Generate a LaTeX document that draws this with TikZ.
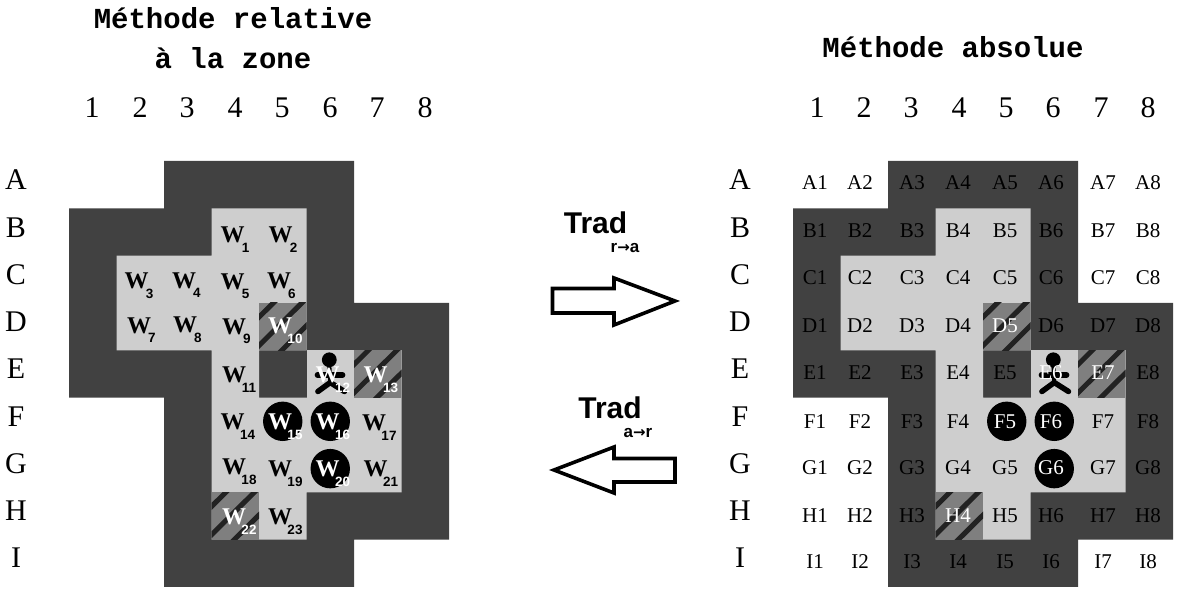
\documentclass[tikz,border=0pt]{standalone}
\usepackage{fontspec}
\setmainfont{Liberation Serif}
\newfontfamily\titlefont{Liberation Mono}
\newfontfamily\tradfont{Liberation Sans}
\newfontfamily\arrowfont{DejaVu Sans}
\definecolor{zonedark}{HTML}{414141}
\definecolor{zonelight}{HTML}{CECECE}
\definecolor{hatchgrey}{HTML}{7F7F7F}
\definecolor{hatchdark}{HTML}{222222}
\newcommand{\tradarrow}{{\arrowfont\bfseries\fontsize{15}{15}\selectfont→}}
\tikzset{
  title/.style={font=\titlefont\bfseries\fontsize{29}{29}\selectfont, inner sep=0pt},
  axis/.style={font=\fontsize{30}{30}\selectfont, inner sep=0pt},
  cellname/.style={font=\fontsize{21}{21}\selectfont, inner sep=0pt, text=black},
  wname/.style={font=\bfseries\fontsize{24}{24}\selectfont, inner sep=0pt},
  wsub/.style={font=\tradfont\bfseries\fontsize{13.5}{13.5}\selectfont, inner sep=0pt},
  trad/.style={font=\tradfont\bfseries\fontsize{30}{30}\selectfont, inner sep=0pt},
  tradsub/.style={font=\tradfont\bfseries\fontsize{17}{17}\selectfont, inner sep=0pt},
  bigarrow/.style={line width=3.6pt, miter limit=10, black, fill=white},
  D5/.style={text=white}, E6/.style={text=white}, E7/.style={text=white},
  F5/.style={text=white}, F6/.style={text=white}, G6/.style={text=white},
  H4/.style={text=white},
}
\begin{document}
\begin{tikzpicture}[x=1pt, y=-1pt]
        \useasboundingbox (0,0) rectangle (1184,596);

        % the two maps
        \foreach \ox in {69,793} {
        \begin{scope}[shift={(\ox,161)}, x=47.5pt, y=-47.33pt]
        \fill[zonedark] (2,0) -- (6,0) -- (6,3) -- (8,3) -- (8,8) -- (6,8) -- (6,9) -- (2,9) -- (2,5) -- (0,5) -- (0,1) -- (2,1) -- cycle;
        \fill[zonelight] (3,1) -- (5,1) -- (5,4) -- (4,4) -- (4,5) -- (7,5) -- (7,7) -- (5,7) -- (5,8) -- (3,8) -- (3,4) -- (1,4) -- (1,2) -- (3,2) -- cycle;
        \fill[zonelight] (5,4) rectangle (7,5);
        \foreach \cx/\cy in {4/3,6/4,3/7} {
        \begin{scope}
        \clip (\cx,\cy) rectangle +(1,1);
        \fill[hatchgrey] (\cx,\cy) rectangle +(1,1);
        \foreach \s in {-0.7,-0.1,0.48}
        \draw[hatchdark, line width=5pt] (\cx+\s-0.1,\cy+1.1) -- (\cx+\s+1.1,\cy-0.1);
        \end{scope}
        }
        \foreach \cx/\cy in {4.5/5.5,5.5/5.5,5.5/6.5}
        \fill[black] (\cx,\cy) circle (19.7pt);
        % the person
        \fill[black] (5.48,4.2) circle (7.4pt);
        \draw[black, line width=5.5pt, line cap=round] (5.23,4.52) -- (5.76,4.52);
        \draw[black, line width=5.5pt, line cap=round] (5.24,4.87) -- (5.5,4.68) -- (5.8,4.87);
        \draw[black, line width=4pt] (5.48,4.3) -- (5.5,4.68);
        \end{scope}
        }

        % titles
        \node[title] (relA) at (233,18) {Méthode relative};
        \node[title] (relB) at (233,58) {à la zone};
        \node[title] (abs) at (953,47) {Méthode absolue};

        % axes
        \foreach \n/\xa/\xb in {1/92/817,2/140/864,3/187/911,4/235/959,5/282/1006,6/330/1053,7/377/1101,8/425/1148} {
        \node[axis] (colL\n) at (\xa,108) {\n};
        \node[axis] (colR\n) at (\xb,108) {\n};
        }
        \foreach \r/\y in {A/180,B/228,C/275,D/322,E/369,F/417,G/464,H/511,I/558} {
        \node[axis] (rowL\r) at (16,\y) {\r};
        \node[axis] (rowR\r) at (740,\y) {\r};
        }

        % right map: cell names
        \foreach \r/\y in {A/183,B/231,C/278,D/325.7,E/373,F/421.7,G/467.7,H/516,I/561.7}
        \foreach \c/\x in {1/815,2/860,3/912,4/958,5/1005,6/1051,7/1103,8/1148}
        \node[cellname, \r\c/.try] (c\r\c) at (\x,\y) {\r\c};

        % left map: black W
        \foreach \n/\x/\y in {1/232.7/235,2/280.7/235,3/136.7/281,4/184/280.7,5/232.7/281.7,6/279/281,7/139/325.7,8/185/325,9/234/326.7} {
        \node[wname] (w\n) at (\x,\y) {W};
        \node[wsub] (s\n) at (\x+13,\y+12.5) {\n};
        }
        \foreach \n/\x/\y in {11/234/375,14/232.7/422.3,17/374/423.3,18/234/467.3,19/280/469,21/375.7/469,23/280/516.7} {
        \node[wname] (w\n) at (\x,\y) {W};
        \node[wsub] (s\n) at (\x+15,\y+13) {\n};
        }
        % left map: white W
        \foreach \n/\x/\y in {10/280/325.7,12/327.7/375,13/375.7/375,15/280/422.3,16/327.7/422.3,20/327.7/469,22/234/516.7} {
        \node[wname, text=white] (w\n) at (\x,\y) {W};
        \node[wsub, text=white] (s\n) at (\x+15,\y+13) {\n};
        }

        % translation arrows
        \node[trad] (tradA) at (595.5,223) {Trad};
        \node[tradsub] (subA) at (625,248) {r\tradarrow a};
        \node[trad] (tradB) at (610,408) {Trad};
        \node[tradsub] (subB) at (638,433) {a\tradarrow r};
        \draw[bigarrow] (552.5,288.5) -- (614,288.5) -- (614,278) -- (675,301) -- (614,325) -- (614,313) -- (552.5,313) -- cycle;
        \draw[bigarrow] (675,458.5) -- (614,458.5) -- (614,447) -- (554,470) -- (614,493) -- (614,482) -- (675,482) -- cycle;

\end{tikzpicture}
\end{document}
